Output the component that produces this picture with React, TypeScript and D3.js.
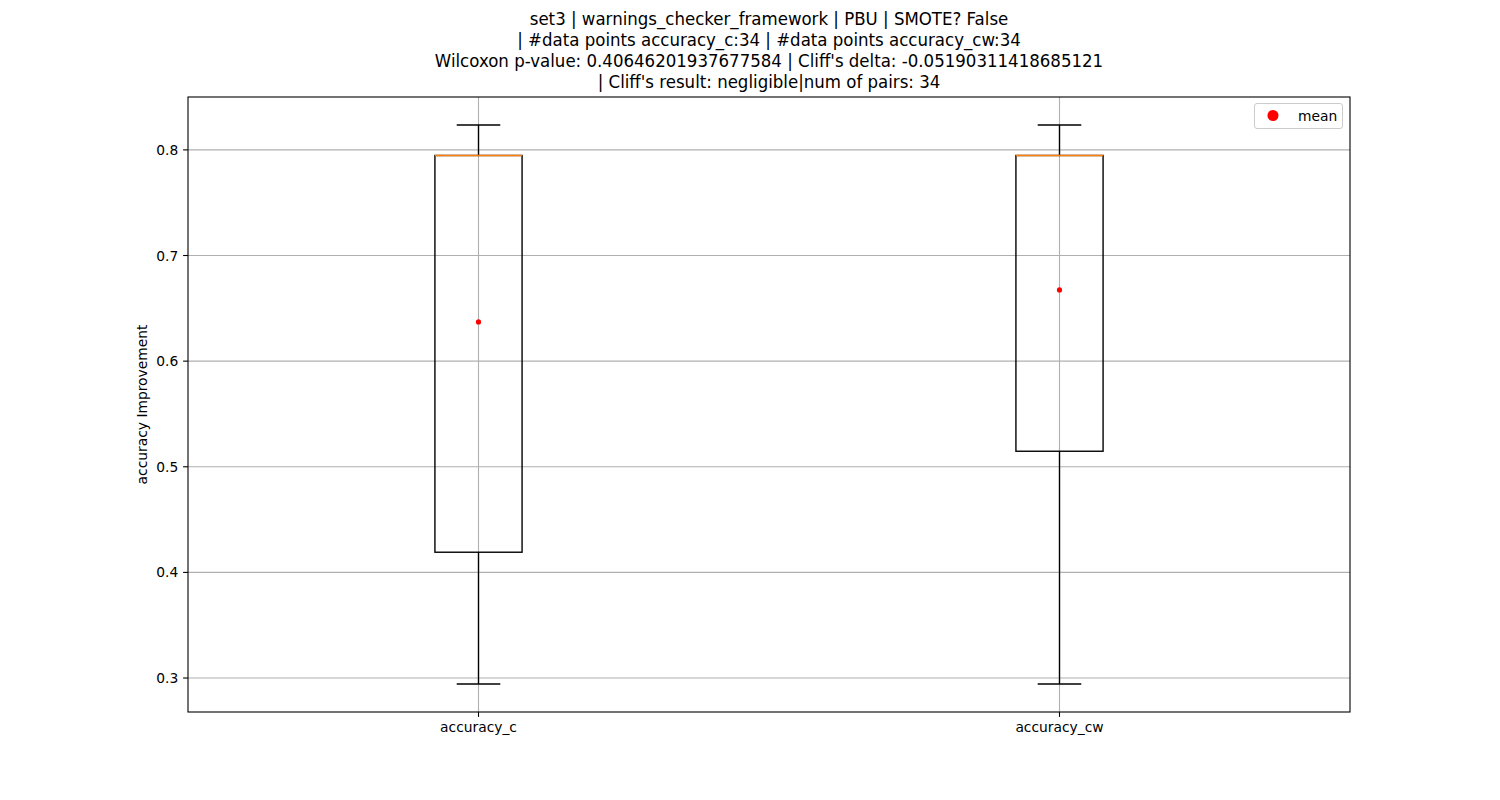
import React from "react";
import * as d3 from "d3";

const categories = ["accuracy_c", "accuracy_cw"];
const whiskerLow = [0.2943, 0.2943];
const q1 = [0.4191, 0.5147];
const median = [0.7947, 0.7947];
const q3 = [0.7947, 0.7947];
const whiskerHigh = [0.8236, 0.8236];
const means = [0.6371, 0.6674];
const yTicks = [0.3, 0.4, 0.5, 0.6, 0.7, 0.8];
const titleLines = [
  "set3 | warnings_checker_framework | PBU | SMOTE? False",
  "| #data points accuracy_c:34 | #data points accuracy_cw:34",
  "Wilcoxon p-value: 0.40646201937677584 | Cliff's delta: -0.05190311418685121",
  "| Cliff's result: negligible|num of pairs: 34",
];

const SX = 0.955;
const VS = 1.0875;

function T(props: { x: number; y: number; size: number; anchor?: string; dy?: string; rotate?: number; children: React.ReactNode }) {
  const { x, y, size, anchor = "start", dy, rotate = 0, children } = props;
  return (
    <text
      transform={`translate(${x},${y}) rotate(${rotate}) scale(${SX},1)`}
      x={0}
      y={0}
      dy={dy}
      textAnchor={anchor as any}
      fontSize={size * VS}
      fill="black"
    >
      {children}
    </text>
  );
}

export default function App() {
  const W = 1500, H = 800;
  const left = 188, right = 1350, top = 97, bottom = 712;
  const lo = d3.min(whiskerLow) as number;
  const hi = d3.max(whiskerHigh) as number;
  const pad = (hi - lo) * 0.05;
  const y = d3.scaleLinear().domain([lo - pad, hi + pad]).range([bottom, top]);
  const x = d3.scaleLinear().domain([0.5, 2.5]).range([left, right]);
  const boxW = x(1.15) - x(1);
  const lw = 1.39;
  const font = "DejaVu Sans, sans-serif";
  const cx = (left + right) / 2;

  return (
    <svg width={W} height={H} style={{ display: "block", position: "absolute", left: 0, top: 0 }} fontFamily={font}>
      <rect width={W} height={H} fill="white" />
      {yTicks.map((t) => (
        <line key={"gy" + t} x1={left} x2={right} y1={y(t)} y2={y(t)} stroke="#b0b0b0" strokeWidth={1.1} />
      ))}
      {categories.map((c, i) => (
        <line key={"gx" + c} x1={x(i + 1)} x2={x(i + 1)} y1={top} y2={bottom} stroke="#b0b0b0" strokeWidth={1.1} />
      ))}
      {categories.map((c, i) => {
        const px = x(i + 1);
        return (
          <g key={"b" + c} fill="none" stroke="black" strokeWidth={lw}>
            <rect x={px - boxW / 2} y={y(q3[i])} width={boxW} height={y(q1[i]) - y(q3[i])} />
            <line x1={px} x2={px} y1={y(q1[i])} y2={y(whiskerLow[i])} />
            <line x1={px} x2={px} y1={y(q3[i])} y2={y(whiskerHigh[i])} />
            <line x1={px - boxW / 4} x2={px + boxW / 4} y1={y(whiskerLow[i])} y2={y(whiskerLow[i])} />
            <line x1={px - boxW / 4} x2={px + boxW / 4} y1={y(whiskerHigh[i])} y2={y(whiskerHigh[i])} />
            <line x1={px - boxW / 2} x2={px + boxW / 2} y1={y(median[i])} y2={y(median[i])} stroke="#ff7f0e" />
            <circle cx={px} cy={y(means[i])} r={2.6} fill="red" stroke="none" />
          </g>
        );
      })}
      <rect x={left} y={top} width={right - left} height={bottom - top} fill="none" stroke="black" strokeWidth={1.1} />
      {yTicks.map((t) => (
        <g key={"yt" + t}>
          <line x1={left - 4.9} x2={left} y1={y(t)} y2={y(t)} stroke="black" strokeWidth={1.1} />
          <T x={left - 9.7} y={y(t)} dy="0.35em" anchor="end" size={13.33}>
            {t.toFixed(1)}
          </T>
        </g>
      ))}
      {categories.map((c, i) => (
        <g key={"xt" + c}>
          <line x1={x(i + 1)} x2={x(i + 1)} y1={bottom} y2={bottom + 4.9} stroke="black" strokeWidth={1.1} />
          <T x={x(i + 1)} y={bottom + 9.2} dy="0.76em" anchor="middle" size={13.33}>
            {c}
          </T>
        </g>
      ))}
      <T x={147} y={(top + bottom) / 2} rotate={-90} anchor="middle" size={13.33}>
        accuracy Improvement
      </T>
      {titleLines.map((l, i) => (
        <T key={"t" + i} x={cx} y={24.5 + i * 21.3} anchor="middle" size={16}>
          {l}
        </T>
      ))}
      <g>
        <rect x={1254.5} y={103.5} width={88} height={25} rx={2.5} fill="white" fillOpacity={0.8} stroke="#cccccc" strokeWidth={1} />
        <circle cx={1273} cy={115.5} r={5.5} fill="red" />
        <T x={1298} y={115.5} dy="0.35em" size={13.33}>mean</T>
      </g>
    </svg>
  );
}
